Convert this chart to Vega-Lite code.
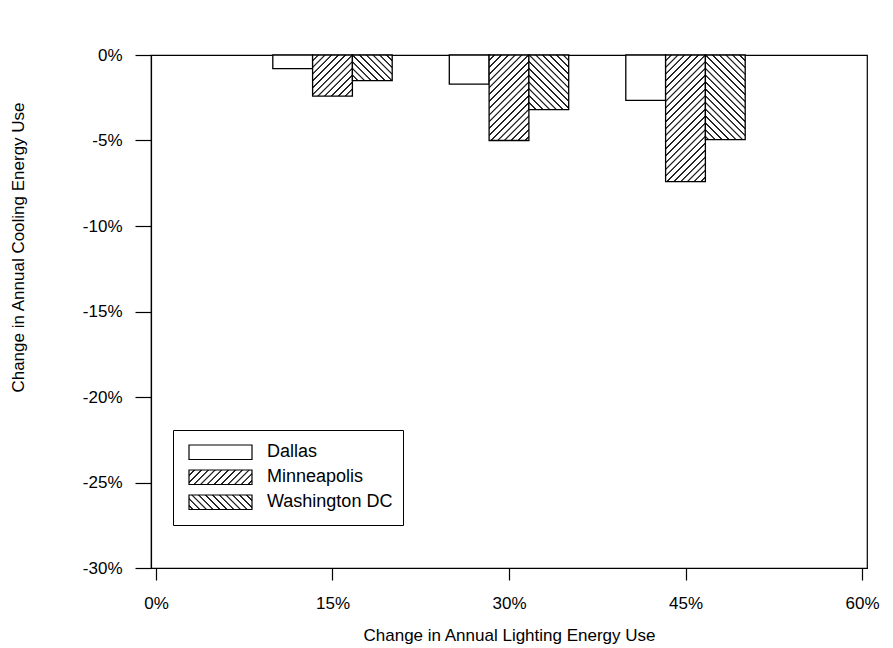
{
  "$schema": "https://vega.github.io/schema/vega-lite/v6.json",
  "width": 716,
  "height": 513,
  "autosize": {"type": "none"},
  "padding": {"left": 151, "top": 55, "right": 26, "bottom": 80},
  "background": "white",
  "params": [
    {"name": "hatchStops", "value": [
      {"offset": 0, "color": "#fff"},
      {"offset": 0.026, "color": "#fff"}, {"offset": 0.029, "color": "#222"}, {"offset": 0.037, "color": "#222"}, {"offset": 0.04, "color": "#fff"},
      {"offset": 0.066, "color": "#fff"}, {"offset": 0.069, "color": "#222"}, {"offset": 0.077, "color": "#222"}, {"offset": 0.08, "color": "#fff"},
      {"offset": 0.106, "color": "#fff"}, {"offset": 0.109, "color": "#222"}, {"offset": 0.117, "color": "#222"}, {"offset": 0.12, "color": "#fff"},
      {"offset": 0.146, "color": "#fff"}, {"offset": 0.149, "color": "#222"}, {"offset": 0.157, "color": "#222"}, {"offset": 0.16, "color": "#fff"},
      {"offset": 0.186, "color": "#fff"}, {"offset": 0.189, "color": "#222"}, {"offset": 0.197, "color": "#222"}, {"offset": 0.2, "color": "#fff"},
      {"offset": 0.226, "color": "#fff"}, {"offset": 0.229, "color": "#222"}, {"offset": 0.237, "color": "#222"}, {"offset": 0.24, "color": "#fff"},
      {"offset": 0.266, "color": "#fff"}, {"offset": 0.269, "color": "#222"}, {"offset": 0.277, "color": "#222"}, {"offset": 0.28, "color": "#fff"},
      {"offset": 0.306, "color": "#fff"}, {"offset": 0.309, "color": "#222"}, {"offset": 0.317, "color": "#222"}, {"offset": 0.32, "color": "#fff"},
      {"offset": 0.346, "color": "#fff"}, {"offset": 0.349, "color": "#222"}, {"offset": 0.357, "color": "#222"}, {"offset": 0.36, "color": "#fff"},
      {"offset": 0.386, "color": "#fff"}, {"offset": 0.389, "color": "#222"}, {"offset": 0.397, "color": "#222"}, {"offset": 0.4, "color": "#fff"},
      {"offset": 0.426, "color": "#fff"}, {"offset": 0.429, "color": "#222"}, {"offset": 0.437, "color": "#222"}, {"offset": 0.44, "color": "#fff"},
      {"offset": 0.466, "color": "#fff"}, {"offset": 0.469, "color": "#222"}, {"offset": 0.477, "color": "#222"}, {"offset": 0.48, "color": "#fff"},
      {"offset": 0.506, "color": "#fff"}, {"offset": 0.509, "color": "#222"}, {"offset": 0.517, "color": "#222"}, {"offset": 0.52, "color": "#fff"},
      {"offset": 0.546, "color": "#fff"}, {"offset": 0.549, "color": "#222"}, {"offset": 0.557, "color": "#222"}, {"offset": 0.56, "color": "#fff"},
      {"offset": 0.586, "color": "#fff"}, {"offset": 0.589, "color": "#222"}, {"offset": 0.597, "color": "#222"}, {"offset": 0.6, "color": "#fff"},
      {"offset": 0.626, "color": "#fff"}, {"offset": 0.629, "color": "#222"}, {"offset": 0.637, "color": "#222"}, {"offset": 0.64, "color": "#fff"},
      {"offset": 0.666, "color": "#fff"}, {"offset": 0.669, "color": "#222"}, {"offset": 0.677, "color": "#222"}, {"offset": 0.68, "color": "#fff"},
      {"offset": 0.706, "color": "#fff"}, {"offset": 0.709, "color": "#222"}, {"offset": 0.717, "color": "#222"}, {"offset": 0.72, "color": "#fff"},
      {"offset": 0.746, "color": "#fff"}, {"offset": 0.749, "color": "#222"}, {"offset": 0.757, "color": "#222"}, {"offset": 0.76, "color": "#fff"},
      {"offset": 0.786, "color": "#fff"}, {"offset": 0.789, "color": "#222"}, {"offset": 0.797, "color": "#222"}, {"offset": 0.8, "color": "#fff"},
      {"offset": 0.826, "color": "#fff"}, {"offset": 0.829, "color": "#222"}, {"offset": 0.837, "color": "#222"}, {"offset": 0.84, "color": "#fff"},
      {"offset": 0.866, "color": "#fff"}, {"offset": 0.869, "color": "#222"}, {"offset": 0.877, "color": "#222"}, {"offset": 0.88, "color": "#fff"},
      {"offset": 0.906, "color": "#fff"}, {"offset": 0.909, "color": "#222"}, {"offset": 0.917, "color": "#222"}, {"offset": 0.92, "color": "#fff"},
      {"offset": 0.946, "color": "#fff"}, {"offset": 0.949, "color": "#222"}, {"offset": 0.957, "color": "#222"}, {"offset": 0.96, "color": "#fff"},
      {"offset": 0.986, "color": "#fff"}, {"offset": 0.989, "color": "#222"}, {"offset": 0.997, "color": "#222"}, {"offset": 1, "color": "#fff"}
    ]}
  ],
  "data": {
    "values": [
      {"lighting": 15, "city": "Dallas", "cooling": -0.8},
      {"lighting": 15, "city": "Minneapolis", "cooling": -2.4},
      {"lighting": 15, "city": "Washington DC", "cooling": -1.5},
      {"lighting": 30, "city": "Dallas", "cooling": -1.7},
      {"lighting": 30, "city": "Minneapolis", "cooling": -5.0},
      {"lighting": 30, "city": "Washington DC", "cooling": -3.2},
      {"lighting": 45, "city": "Dallas", "cooling": -2.65},
      {"lighting": 45, "city": "Minneapolis", "cooling": -7.4},
      {"lighting": 45, "city": "Washington DC", "cooling": -4.95}
    ]
  },
  "mark": {
    "type": "bar",
    "orient": "vertical",
    "width": 39.8,
    "strokeWidth": 1.3,
    "xOffset": {"expr": "datum.city === 'Dallas' ? -39.8 : datum.city === 'Minneapolis' ? 0 : 39.8"}
  },
  "encoding": {
    "x": {
      "field": "lighting",
      "type": "quantitative",
      "scale": {"domain": [0, 60], "nice": false, "zero": false},
      "axis": {
        "values": [0, 15, 30, 45, 60],
        "labelExpr": "datum.value + '%'",
        "title": "Change in Annual Lighting Energy Use",
        "tickSize": 12,
        "labelPadding": 23,
        "labelBaseline": "middle",
        "labelFlush": false,
        "labelOverlap": false,
        "titleY": 67,
        "titleBaseline": "middle"
      }
    },
    "y": {
      "field": "cooling",
      "type": "quantitative",
      "stack": null,
      "scale": {"domain": [-30, 0], "nice": false},
      "axis": {
        "values": [0, -5, -10, -15, -20, -25, -30],
        "labelExpr": "datum.value + '%'",
        "title": "Change in Annual Cooling Energy Use",
        "tickSize": 16,
        "labelPadding": 13,
        "labelBaseline": "middle",
        "labelFlush": false,
        "labelOverlap": false,
        "titleX": -133,
        "titleY": 192,
        "titleAngle": -90,
        "titleAlign": "center",
        "titleBaseline": "middle"
      }
    },
    "stroke": {
      "field": "city",
      "type": "nominal",
      "scale": {"range": ["black", "black", "black"]}
    },
    "fill": {
      "condition": {
        "test": "datum.city !== 'Dallas'",
        "value": {"expr": "datum.city === 'Minneapolis' ? {gradient: 'linear', x1: 0, y1: 0, x2: (170 / (39.8 * (1 + pow(abs(scale('y', datum.cooling) - scale('y', 0)) / 39.8, 2)))), y2: (170 / (39.8 * (1 + pow(abs(scale('y', datum.cooling) - scale('y', 0)) / 39.8, 2)))) * (abs(scale('y', datum.cooling) - scale('y', 0)) / 39.8), stops: hatchStops} : {gradient: 'linear', x1: 1, y1: 0, x2: 1 - (170 / (39.8 * (1 + pow(abs(scale('y', datum.cooling) - scale('y', 0)) / 39.8, 2)))), y2: (170 / (39.8 * (1 + pow(abs(scale('y', datum.cooling) - scale('y', 0)) / 39.8, 2)))) * (abs(scale('y', datum.cooling) - scale('y', 0)) / 39.8), stops: hatchStops}"}
      },
      "field": "city",
      "type": "nominal",
      "scale": {"range": [
        "white",
        {"expr": "{gradient: 'linear', x1: 0, y1: 0, x2: 2.563, y2: 0.59, stops: hatchStops}"},
        {"expr": "{gradient: 'linear', x1: 1, y1: 0, x2: -1.563, y2: 0.59, stops: hatchStops}"}
      ]},
      "legend": {
        "orient": "none",
        "legendX": 22,
        "legendY": 375,
        "title": null,
        "direction": "vertical",
        "padding": 10,
        "strokeColor": "black",
        "fillColor": "white",
        "symbolType": "M-1,-0.23H1V0.23H-1Z",
        "symbolSize": 3969,
        "symbolStrokeWidth": 1.2,
        "symbolOffset": 5,
        "labelOffset": 14,
        "clipHeight": 24.5,
        "rowPadding": 0,
        "labelFont": "Liberation Sans",
        "labelFontSize": 18,
        "labelColor": "black",
        "labelBaseline": "middle"
      }
    }
  },
  "config": {
    "view": {"stroke": "black", "strokeWidth": 1.2},
    "axis": {
      "grid": false,
      "domainColor": "black",
      "domainWidth": 1.2,
      "tickColor": "black",
      "tickWidth": 1.2,
      "labelFont": "Liberation Sans",
      "labelFontSize": 17,
      "labelColor": "black",
      "titleFont": "Liberation Sans",
      "titleFontSize": 17,
      "titleFontWeight": "normal",
      "titleColor": "black"
    }
  }
}
